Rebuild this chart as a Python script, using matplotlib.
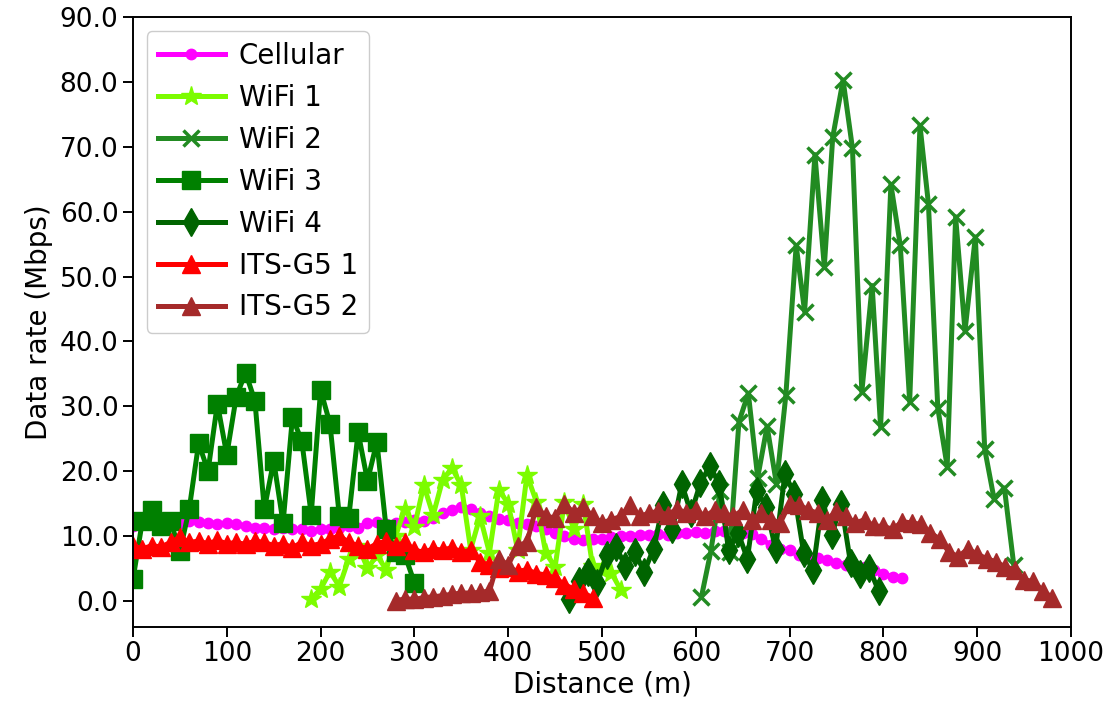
import numpy as np
import matplotlib
matplotlib.use("Agg")
import matplotlib.pyplot as plt

# ---------------- data ----------------
cell_x = list(range(0, 830, 10))
cell_y = [11.5, 12.0, 12.3, 12.5, 12.2, 12.0, 12.3, 12.2, 12.0, 11.8,
          12.0, 11.8, 11.5, 11.2, 11.3, 11.0, 11.2, 11.0, 11.0, 10.8,
          11.0, 11.0, 11.2, 11.5, 11.3, 12.0, 12.1, 11.8, 12.0, 12.2,
          12.5, 12.3, 12.8, 13.5, 14.0, 14.5, 14.2, 13.5, 13.0, 12.6,
          12.4, 12.0, 11.8, 11.5, 11.0, 10.5, 10.0, 9.5, 9.3, 9.5,
          9.6, 9.8, 10.0, 10.0, 10.2, 10.1, 10.3, 10.2, 10.4, 10.5,
          10.6, 10.5, 10.7, 10.8, 10.6, 10.5, 10.3, 9.5, 8.6, 8.0,
          7.8, 7.0, 6.8, 6.6, 6.3, 5.9, 5.5, 5.4, 5.2, 4.8,
          4.2, 3.7, 3.5]

wifi1_x = list(range(190, 530, 10))
wifi1_y = [0.3, 1.8, 4.5, 2.2, 6.5, 8.5, 5.0, 7.0, 4.8, 10.0,
           14.2, 11.4, 17.8, 13.2, 18.6, 20.5, 17.8, 7.9, 13.0, 7.4,
           17.1, 15.0, 7.9, 19.4, 15.3, 7.4, 5.2, 15.3, 11.0, 15.0,
           5.3, 4.8, 4.3, 1.7]

wifi2_x = [606, 616, 626, 636, 646, 656, 666, 676, 686, 696,
           707, 716, 727, 737, 746, 757, 767, 777, 788, 797,
           808, 818, 828, 839, 848, 858, 868, 877, 887, 898,
           908, 918, 929, 939]
wifi2_y = [0.6, 7.6, 17.0, 7.5, 27.6, 32.0, 19.0, 26.9, 18.0, 31.7,
           54.8, 44.6, 68.8, 51.5, 71.5, 80.3, 69.8, 32.2, 48.6, 26.8,
           64.2, 54.8, 30.7, 73.3, 61.2, 29.7, 20.7, 59.2, 41.6, 56.1,
           23.4, 15.7, 17.4, 5.5]

wifi3_x = list(range(0, 310, 10))
wifi3_y = [3.3, 12.3, 14.0, 11.5, 12.3, 7.6, 14.2, 24.3, 20.0, 30.4,
           22.5, 31.4, 35.2, 30.8, 14.1, 21.6, 12.0, 28.3, 24.6, 13.3,
           32.5, 27.3, 13.0, 12.8, 26.0, 18.5, 24.5, 11.0, 7.5, 7.0,
           2.8]

wifi4_x = list(range(465, 800, 10))
wifi4_y = [0.2, 3.0, 4.5, 2.8, 7.0, 8.3, 5.3, 7.5, 4.5, 8.0,
           14.8, 11.0, 18.0, 13.5, 18.2, 20.8, 18.0, 7.8, 10.5, 6.5,
           17.0, 14.5, 8.0, 19.5, 16.5, 7.4, 4.8, 15.5, 10.2, 15.0,
           5.8, 4.2, 5.0, 1.5]

its1_x = list(range(0, 500, 10))
its1_y = [8.5, 8.0, 8.5, 8.3, 9.0, 9.8, 9.0, 9.2, 8.8, 9.3,
          8.8, 9.0, 8.7, 9.2, 9.0, 8.5, 8.8, 8.2, 9.0, 8.5,
          8.8, 9.5, 10.0, 9.0, 8.5, 8.0, 8.8, 9.2, 8.5, 9.0,
          7.8, 7.5, 8.0, 7.8, 8.2, 7.5, 7.8, 6.0, 5.5, 5.0,
          5.2, 4.5, 4.8, 4.2, 4.0, 3.5, 2.5, 1.8, 1.2, 0.5]

its2_x = list(range(280, 990, 10))
its2_y = [0.0, 0.3, 0.2, 0.5, 0.6, 0.8, 1.0, 1.2, 1.2, 1.3,
          1.5, 6.5, 5.5, 8.5, 9.0, 14.5, 13.0, 12.8, 15.0, 13.5,
          14.5, 13.0, 12.0, 12.5, 13.0, 14.8, 13.0, 13.5, 13.8, 13.2,
          14.2, 13.5, 14.0, 13.0, 14.0, 13.5, 13.0, 14.0, 12.5, 13.5,
          12.5, 12.0, 15.0, 14.8, 14.0, 13.5, 12.5, 13.8, 13.0, 12.0,
          12.5, 11.5, 11.5, 11.0, 12.2, 12.0, 11.8, 10.5, 9.5, 7.5,
          6.8, 8.0, 7.2, 6.5, 6.0, 5.2, 4.8, 3.2, 3.0, 1.5,
          0.5]

labels = ["Cellular", "WiFi 1", "WiFi 2", "WiFi 3", "WiFi 4", "ITS-G5 1", "ITS-G5 2"]
xticks = [0, 100, 200, 300, 400, 500, 600, 700, 800, 900, 1000]
yticks = [0, 10, 20, 30, 40, 50, 60, 70, 80, 90]

# ---------------- plot ----------------
plt.rcParams['font.family'] = ['DejaVu Sans']
fs = 19.5
fig = plt.figure(figsize=(11.11, 7.13), dpi=100)
ax = fig.add_axes([0.1197, 0.121, 0.8443, 0.855])

lw = 3.6
ax.plot(cell_x, cell_y, color='magenta', marker='o', ms=7.5, lw=lw, label=labels[0])
ax.plot(wifi1_x, wifi1_y, color='lawngreen', marker='*', ms=15, lw=lw, label=labels[1])
ax.plot(wifi2_x, wifi2_y, color='forestgreen', marker='x', ms=12, mew=2.5, lw=lw, label=labels[2])
ax.plot(wifi3_x, wifi3_y, color='green', marker='s', ms=13, lw=lw, label=labels[3])
ax.plot(wifi4_x, wifi4_y, color='darkgreen', marker='d', ms=14, lw=lw, label=labels[4])
ax.plot(its1_x, its1_y, color='red', marker='^', ms=13, lw=lw, label=labels[5])
ax.plot(its2_x, its2_y, color='brown', marker='^', ms=13, lw=lw, label=labels[6])

ax.set_xlim(0, 1000)
ax.set_ylim(-4, 90)
ax.set_xticks(xticks)
ax.set_yticks(yticks)
ax.set_yticklabels([f"{v:.1f}" for v in yticks])
ax.tick_params(labelsize=19, width=1.4, length=7)
for s in ax.spines.values():
    s.set_linewidth(1.4)
ax.set_xlabel("Distance (m)", fontsize=20, labelpad=2)
ax.set_ylabel("Data rate (Mbps)", fontsize=20, labelpad=5)

leg = ax.legend(loc='upper left', fontsize=20, handlelength=2.4, labelspacing=0.5,
                borderpad=0.4, handletextpad=0.5, borderaxespad=0.5,
                framealpha=1.0, edgecolor='#cccccc')

fig.savefig("out.png", dpi=100)
